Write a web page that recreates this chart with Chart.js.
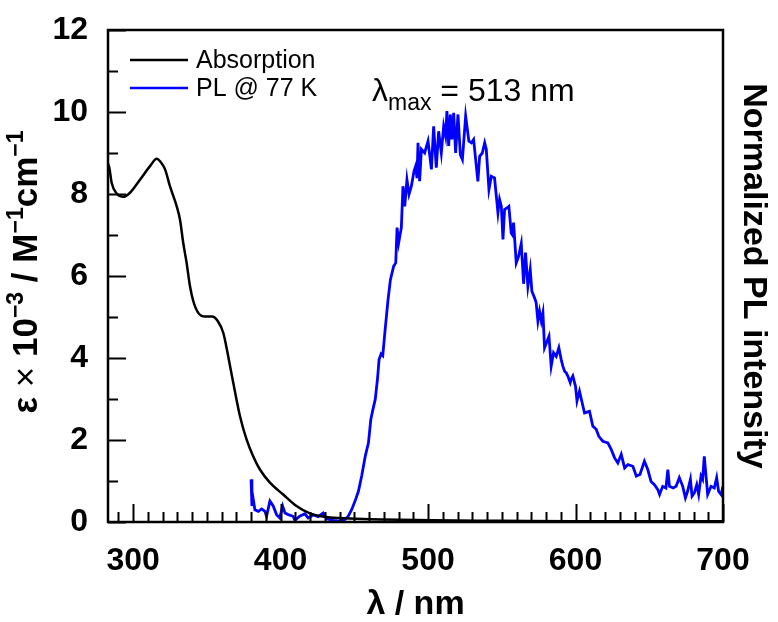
<!DOCTYPE html>
<html>
<head>
<meta charset="utf-8">
<script src="https://cdn.jsdelivr.net/npm/chart.js@4"></script>
<style>
  body { margin: 0; background: #fff; }
  #wrap { width: 778px; height: 622px; }
</style>
</head>
<body>
<div id="wrap"><canvas id="AbsPlChart"></canvas></div>
<script>
// absorption spectrum (eps x 10^-3)
var absWavelength = [283, 283.9, 285.5, 288.9, 293.4, 297.9, 304.7, 311.5, 316, 318.3, 321.7, 325, 329.6, 331.8, 334, 336.3, 338.6, 340.8, 344.2, 348.8, 353.5, 357.6, 361.2, 364.5, 367.9, 372.5, 377, 381.5, 386, 392.8, 401.8, 410.8, 419.9, 431.2, 447, 469.5, 503, 550, 600, 650, 700];
var absEpsilon = [8.74, 8.64, 8.27, 8.01, 7.93, 8.03, 8.35, 8.68, 8.86, 8.8, 8.6, 8.19, 7.7, 7.38, 6.81, 6.32, 5.75, 5.39, 5.1, 5.01, 5.01, 4.89, 4.61, 4.04, 3.4, 2.58, 2.01, 1.6, 1.28, 0.96, 0.67, 0.39, 0.21, 0.12, 0.085, 0.06, 0.04, 0.03, 0.02, 0.02, 0.02];

// PL @ 77 K (normalized, peak = 10)
var plWavelength = [380, 380.6, 381.5, 382.6, 384.9, 387.2, 389.4, 390.5, 392.8, 395, 397.3, 399.5, 401.4, 403, 405.2, 408.5, 409.7, 413, 416.5, 418.7, 422.1, 425.5, 428.9, 431.2, 435.8, 440.3, 443.7, 445.9, 448.2, 450.5, 452.8, 455, 457.4, 459.6,
  461.2, 462.6, 464.2, 465.7, 466.8, 468.2, 469.3, 470.8, 472.9, 474.5, 476.7, 478.1, 479, 480.1, 481.9, 483, 484.2, 485.7, 487.1, 488.7, 490.5, 491.6, 492.5, 493.2, 494.3, 495.5, 497.7, 500,
  502.3, 503.8, 505.6, 507.2, 509, 510.6, 511.9, 512.8, 514, 515.1, 516.2, 517.4, 518.7, 520.3, 521.9, 523.3, 525.5, 527.7, 529.4, 530.9, 532.3, 533.8, 535, 536.8, 538.4, 539.5,
  541.3, 542.9, 545.1, 546.3, 547.4, 548.5, 549.7, 550.8, 551.9, 553.5, 554.8, 556.4, 557.1, 558, 559.8, 561.4, 563.2, 564.8, 566.1, 567.7, 569.3, 570.4, 572.2, 573.3, 574.5, 575.6, 576.8, 577.9,
  579, 582, 583.5, 585.1, 586.9, 588.7, 590.3, 591.4, 592.6, 593.7, 594.8, 596.4, 597, 598.2, 600, 601, 602.7, 606.1, 609.5, 611.7, 614, 615.8, 618.5, 621.9, 624.2, 626.4, 628.7,
  631, 633.3, 635.5, 638.9, 641.2, 643.7, 646.7, 649, 651.2, 653.5, 655.8, 657, 659.1, 661.3, 662.6, 663.7, 666.2, 668.2, 670.4, 672.7, 674.5, 676, 677.9, 679, 680.6, 682.2, 683.5,
  685.1, 686.2, 687.3, 688.5, 689.6, 691.9, 694.1, 695.7, 697, 698.7, 700];
var plIntensity = [1.04, 0.39, 0.55, 0.3, 0.26, 0.32, 0.26, 0.14, 0.51, 0.39, 0.18, 0.1, 0.39, 0.22, 0.18, 0.14, 0.04, 0.14, 0.2, 0.1, 0.17, 0.13, 0.22, 0.08, 0.04, 0.02, 0.06, 0.14, 0.3, 0.51, 0.75, 1.12, 1.6, 1.93,
  2.5, 2.74, 2.99, 3.48, 3.96, 4.1, 4.06, 4.65, 5.43, 5.91, 6.24, 6.32, 7.18, 6.81, 7.18, 8.19, 7.7, 8.35, 7.99, 8.19, 8.56, 8.68, 8.39, 9.25, 8.31, 9.09, 9.0, 9.29,
  8.6, 9.65, 8.64, 9.53, 9.0, 9.65, 9.41, 10.02, 9.17, 9.94, 9.33, 9.98, 9.0, 9.94, 8.96, 8.84, 9.9, 9.29, 9.25, 9.33, 8.84, 8.31, 8.92, 9.0, 9.25, 9.09,
  8.11, 8.43, 8.39, 7.95, 7.54, 7.87, 7.7, 6.89, 7.62, 7.66, 7.7, 7.05, 7.01, 7.3, 6.32, 6.48, 6.79, 5.81, 6.57, 5.75, 6.16, 5.63, 5.47, 5.35, 4.9, 5.14, 4.9, 5.1,
  4.25, 4.53, 3.8, 4.13, 4.04, 4.25, 3.96, 3.8, 3.68, 3.64, 3.56, 3.4, 3.48, 3.56, 3.31, 2.95, 3.19, 2.66, 2.7, 2.34, 2.26, 2.09, 1.97, 1.93, 1.77, 1.57, 1.44,
  1.65, 1.32, 1.4, 1.36, 1.12, 1.16, 1.48, 1.28, 0.99, 0.91, 0.79, 0.67, 0.87, 0.83, 1.28, 0.87, 0.83, 0.87, 1.08, 0.87, 0.59, 0.75, 1.04, 0.63, 0.71, 0.91, 0.67,
  1.12, 1.04, 1.6, 1.12, 0.67, 0.87, 0.83, 1.08, 0.75, 0.67, 0.87];

var xTicks = [300, 400, 500, 600, 700];
var xMinorTicks = [290, 310, 320, 330, 340, 350, 360, 370, 380, 390, 410, 420, 430, 440, 450, 460, 470, 480, 490, 510, 520, 530, 540, 550, 560, 570, 580, 590, 610, 620, 630, 640, 650, 660, 670, 680, 690];
var yTicks = [0, 2, 4, 6, 8, 10, 12];
var yMinorTicks = [1, 3, 5, 7, 9, 11];

var seriesLabels = ['Absorption', 'PL @ 77 K'];

function toPoints(xs, ys) {
    return xs.map(function (x, i) { return { x: x, y: ys[i] }; });
}

// draws a piece of text made of normal / super / sub parts
function drawParts(ctx, parts, x, y, align) {
    var total = 0;
    parts.forEach(function (p) {
        ctx.font = p.font;
        p.w = ctx.measureText(p.t).width;
        total += p.w;
    });
    var cx = align == 'center' ? x - total / 2 : x;
    parts.forEach(function (p) {
        ctx.font = p.font;
        ctx.fillText(p.t, cx, y + (p.dy || 0));
        cx += p.w;
    });
}

var framePlugin = {
    id: 'frameAndText',
    afterDatasetsDraw: function (chart) {
        var ctx = chart.ctx;
        var a = chart.chartArea;
        var xs = chart.scales.x, ys = chart.scales.y;
        ctx.save();
        ctx.strokeStyle = '#000';
        ctx.lineWidth = 2.5;
        ctx.strokeRect(a.left, a.top, a.right - a.left, a.bottom - a.top);

        // inward ticks, bottom and left only
        ctx.lineWidth = 2;
        ctx.beginPath();
        xTicks.forEach(function (v) {
            var px = Math.round(xs.getPixelForValue(v)) + 0.5;
            ctx.moveTo(px, a.bottom); ctx.lineTo(px, a.bottom - 18);
        });
        xMinorTicks.forEach(function (v) {
            var px = Math.round(xs.getPixelForValue(v)) + 0.5;
            ctx.moveTo(px, a.bottom); ctx.lineTo(px, a.bottom - 10);
        });
        yTicks.forEach(function (v) {
            var py = Math.round(ys.getPixelForValue(v)) + 0.5;
            ctx.moveTo(a.left, py); ctx.lineTo(a.left + 18, py);
        });
        yMinorTicks.forEach(function (v) {
            var py = Math.round(ys.getPixelForValue(v)) + 0.5;
            ctx.moveTo(a.left, py); ctx.lineTo(a.left + 10, py);
        });
        ctx.stroke();

        // legend
        ctx.textBaseline = 'middle';
        ctx.textAlign = 'left';
        ctx.fillStyle = '#000';
        chart.data.datasets.forEach(function (ds, i) {
            var ly = 60 + i * 28;
            ctx.strokeStyle = ds.borderColor;
            ctx.lineWidth = 2.5;
            ctx.beginPath();
            ctx.moveTo(130, ly); ctx.lineTo(188, ly);
            ctx.stroke();
            ctx.font = '25px "Liberation Sans", Arial, sans-serif';
            ctx.fillText(ds.label, 196, ly + 1);
        });

        // lambda max note
        ctx.textBaseline = 'alphabetic';
        drawParts(ctx, [
            { t: 'λ', font: '32px "Liberation Sans", Arial, sans-serif' },
            { t: 'max', font: '23px "Liberation Sans", Arial, sans-serif', dy: 9 },
            { t: ' = 513 nm', font: '32px "Liberation Sans", Arial, sans-serif' }
        ], 372, 101, 'left');

        // left axis title with superscripts
        ctx.translate(27, 272);
        ctx.rotate(-Math.PI / 2);
        var bf = 'bold 35px "Liberation Sans", Arial, sans-serif';
        var sf = 'bold 23px "Liberation Sans", Arial, sans-serif';
        ctx.textBaseline = 'middle';
        drawParts(ctx, [
            { t: 'ε', font: bf },
            { t: ' × ', font: '35px "Liberation Sans", Arial, sans-serif' },
            { t: '10', font: bf },
            { t: '−3', font: sf, dy: -10 },
            { t: ' / M', font: bf },
            { t: '−1', font: sf, dy: -10 },
            { t: 'cm', font: bf },
            { t: '−1', font: sf, dy: -10 }
        ], 0, 0, 'center');
        ctx.restore();
    }
};

var tickFont = { family: '"Liberation Sans", Arial, sans-serif', size: 32, weight: 'bold' };
var titleFont = { family: '"Liberation Sans", Arial, sans-serif', size: 34, weight: 'bold', lineHeight: 1 };

var ctx = document.getElementById('AbsPlChart').getContext('2d');
window.MyAbsPlChart = new Chart(ctx, {
    type: 'line',
    data: {
        datasets: [{
            label: seriesLabels[0],
            data: toPoints(absWavelength, absEpsilon),
            borderColor: '#000000',
            borderWidth: 2.5,
            pointRadius: 0,
            cubicInterpolationMode: 'monotone',
            fill: false,
            yAxisID: 'y'
        }, {
            label: seriesLabels[1],
            data: toPoints(plWavelength, plIntensity),
            borderColor: '#0000ff',
            borderWidth: 2.8,
            pointRadius: 0,
            tension: 0,
            fill: false,
            yAxisID: 'y2'
        }]
    },
    options: {
        responsive: true,
        maintainAspectRatio: false,
        animation: false,
        devicePixelRatio: 1,
        layout: { padding: { top: 30, left: 0, right: 0, bottom: 0 } },
        plugins: {
            legend: { display: false },
            tooltip: { enabled: false }
        },
        scales: {
            x: {
                type: 'linear',
                min: 283,
                max: 700,
                afterBuildTicks: function (s) { s.ticks = xTicks.map(function (v) { return { value: v }; }); },
                afterFit: function (s) { s.height = 100; s.paddingLeft = 0; s.paddingRight = 0; },
                grid: { display: false, drawTicks: false },
                border: { display: false },
                ticks: { font: tickFont, color: '#000', padding: 20, maxRotation: 0, autoSkip: false },
                title: { display: true, text: 'λ / nm', font: titleFont, color: '#000', padding: { top: 0, bottom: 0 } }
            },
            y: {
                position: 'left',
                min: 0,
                max: 12,
                afterBuildTicks: function (s) { s.ticks = yTicks.map(function (v) { return { value: v }; }); },
                afterFit: function (s) { s.width = 108; s.paddingTop = 0; s.paddingBottom = 0; },
                grid: { display: false, drawTicks: false },
                border: { display: false },
                ticks: { font: tickFont, color: '#000', padding: 20, autoSkip: false }
            },
            y2: {
                position: 'right',
                min: 0,
                max: 12,
                afterFit: function (s) { s.width = 55; s.paddingTop = 0; s.paddingBottom = 0; },
                grid: { display: false, drawTicks: false },
                border: { display: false },
                ticks: { display: false },
                title: { display: true, text: 'Normalized PL intensity', font: titleFont, color: '#000', padding: { top: 8, bottom: 0 } }
            }
        }
    },
    plugins: [framePlugin]
});
</script>
</body>
</html>
